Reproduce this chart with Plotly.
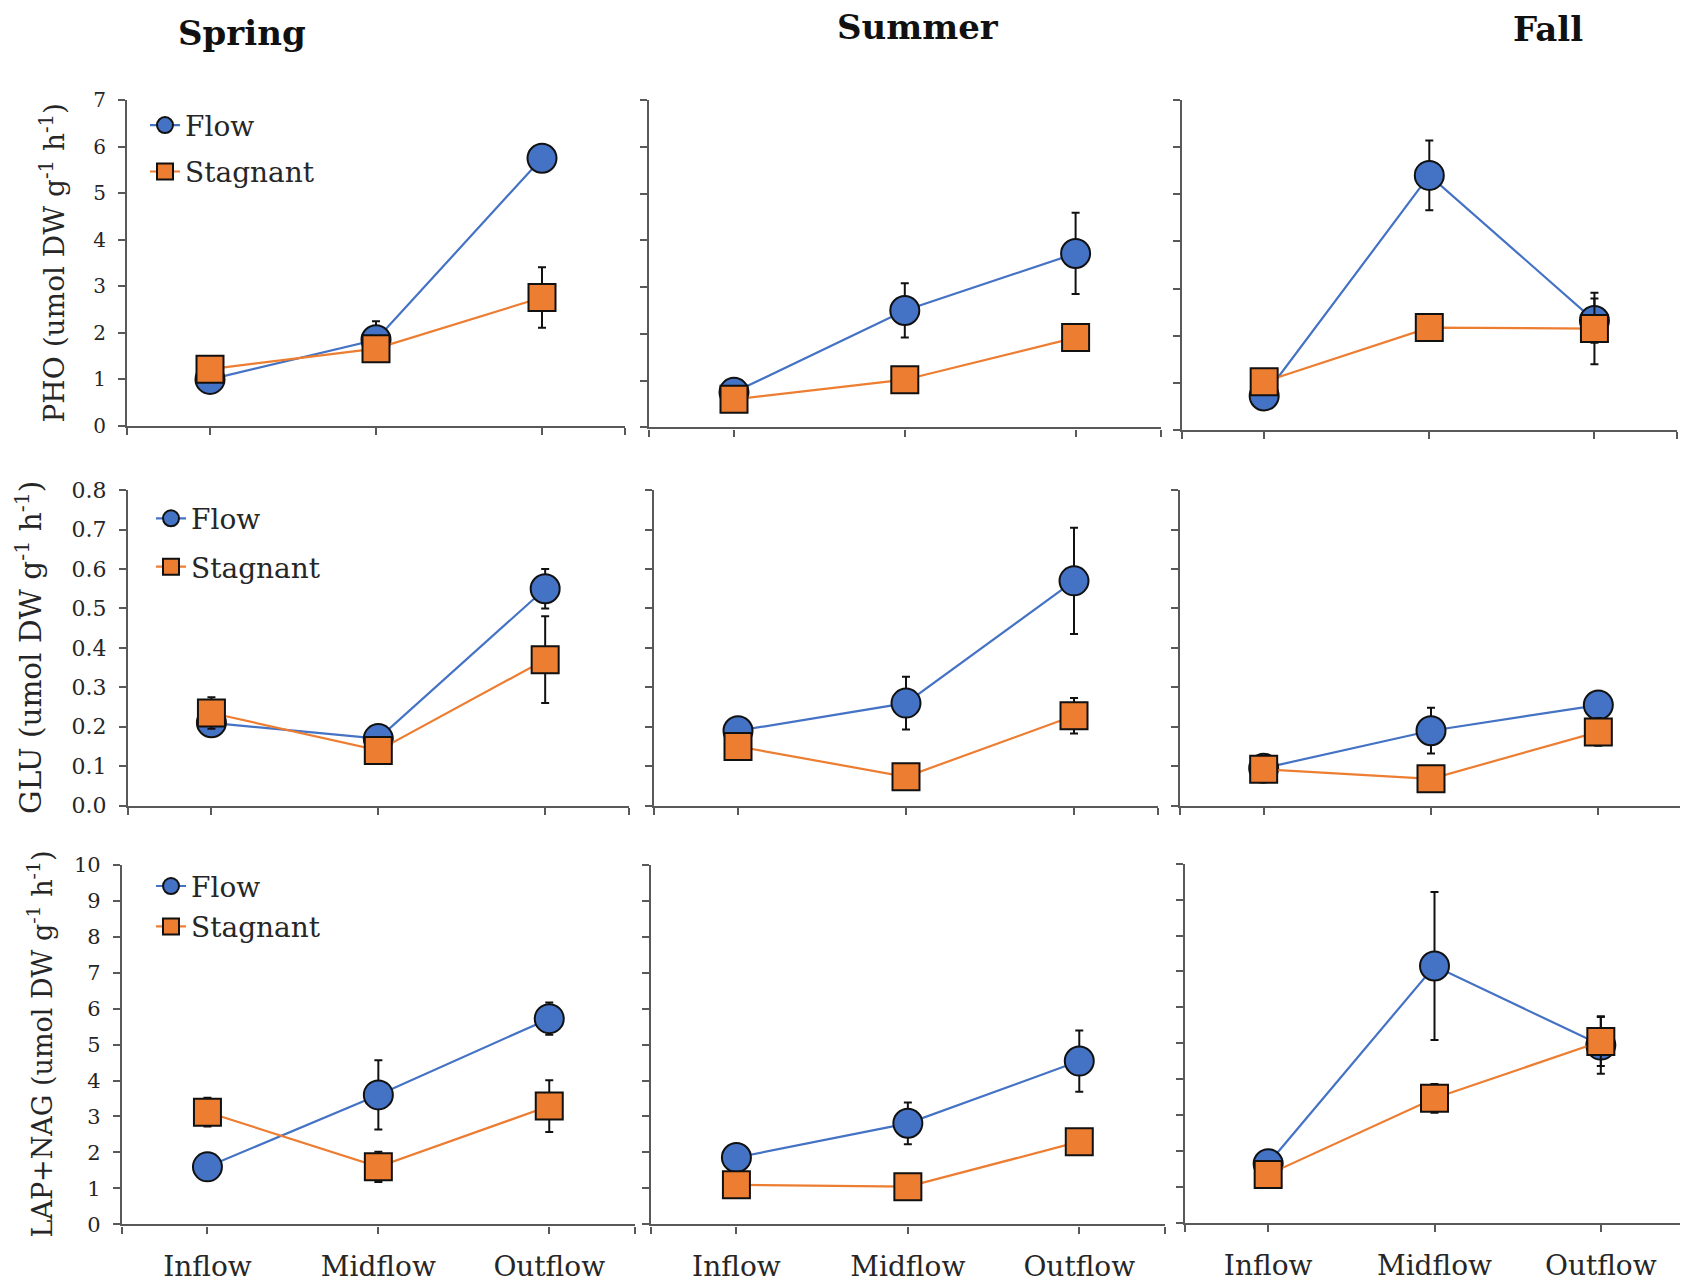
import plotly.graph_objects as go

W, H = 1688, 1286

categories = ["Inflow", "Midflow", "Outflow"]
seasons = ["Spring", "Summer", "Fall"]
enzymes = ["PHO", "GLU", "LAP+NAG"]

# PHO (umol DW g-1 h-1)
pho_flow = {"Spring": [1.0, 1.85, 5.75], "Summer": [0.75, 2.5, 3.72], "Fall": [0.72, 5.4, 2.32]}
pho_flow_err = {"Spring": [0.08, 0.40, 0.15], "Summer": [0.05, 0.58, 0.87], "Fall": [0.05, 0.74, 0.47]}
pho_stag = {"Spring": [1.22, 1.66, 2.76], "Summer": [0.6, 1.02, 1.92], "Fall": [1.02, 2.17, 2.15]}
pho_stag_err = {"Spring": [0.1, 0.12, 0.65], "Summer": [0.05, 0.08, 0.1], "Fall": [0.05, 0.1, 0.76]}

# GLU (umol DW g-1 h-1)
glu_flow = {"Spring": [0.21, 0.17, 0.55], "Summer": [0.19, 0.26, 0.57], "Fall": [0.095, 0.19, 0.255]}
glu_flow_err = {"Spring": [0.02, 0.03, 0.05], "Summer": [0.01, 0.067, 0.135], "Fall": [0.01, 0.058, 0.01]}
glu_stag = {"Spring": [0.235, 0.14, 0.37], "Summer": [0.15, 0.073, 0.228], "Fall": [0.092, 0.068, 0.187]}
glu_stag_err = {"Spring": [0.04, 0.02, 0.11], "Summer": [0.01, 0.01, 0.045], "Fall": [0.02, 0.01, 0.035]}

# LAP+NAG (umol DW g-1 h-1)
lap_flow = {"Spring": [1.6, 3.6, 5.72], "Summer": [1.86, 2.81, 4.54], "Fall": [1.65, 7.15, 4.95]}
lap_flow_err = {"Spring": [0.1, 0.96, 0.45], "Summer": [0.1, 0.58, 0.85], "Fall": [0.1, 2.06, 0.8]}
lap_stag = {"Spring": [3.12, 1.6, 3.29], "Summer": [1.1, 1.05, 2.3], "Fall": [1.35, 3.47, 5.05]}
lap_stag_err = {"Spring": [0.4, 0.42, 0.72], "Summer": [0.1, 0.1, 0.3], "Fall": [0.1, 0.4, 0.68]}

y_titles = [
    "PHO (umol DW g<sup>-1</sup> h<sup>-1</sup>)",
    "GLU (umol DW g<sup>-1</sup> h<sup>-1</sup>)",
    "LAP+NAG (umol DW g<sup>-1</sup> h<sup>-1</sup>)",
]
y_ranges = [[0, 7], [0, 0.8], [0, 10]]
y_dticks = [1, 0.1, 1]
y_formats = ["d", ".1f", "d"]

rows = [
    (pho_flow, pho_flow_err, pho_stag, pho_stag_err),
    (glu_flow, glu_flow_err, glu_stag, glu_stag_err),
    (lap_flow, lap_flow_err, lap_stag, lap_stag_err),
]

# panel pixel boxes: (left, right, top, bottom)
boxes = [
    [(119, 617, 81.6, 414), (640.6, 1153, 81.6, 415.5), (1173.6, 1669, 81.6, 418)],
    [(120, 620.6, 479.5, 801.2), (646, 1150, 479.5, 801.2), (1172, 1674, 479.5, 801.2)],
    [(114, 626.7, 861.4, 1228.3), (642.7, 1157, 861.4, 1228.3), (1177, 1676, 860.4, 1226.8)],
]


def px(x):
    return min(1.0, max(0.0, x / W))


def py(y):
    return min(1.0, max(0.0, 1 - y / H))


BLUE = "#4472C4"
ORANGE = "#ED7D31"
AXC = "#595959"
TXT = "#262626"
FONT = "DejaVu Serif"

fig = go.Figure()
layout = {}
x_idx = list(range(len(categories)))

# legend boxes (px): left, top, group gap
legend_pos = [(137, 82, 7), (143, 483, 9), (143, 858, 1)]
tick_sizes = [20, 22, 21]
title_sizes = [28, 29.5, 27]

for r in range(3):
    fdict, fedict, sdict, sedict = rows[r]
    for c, season in enumerate(seasons):
        n = r * 3 + c + 1
        xa = "x" if n == 1 else f"x{n}"
        ya = "y" if n == 1 else f"y{n}"
        xkey = "xaxis" if n == 1 else f"xaxis{n}"
        ykey = "yaxis" if n == 1 else f"yaxis{n}"
        L, R, T, B = boxes[r][c]
        legname = "legend" if r == 0 else f"legend{r+1}"
        show = (c == 0)
        fig.add_trace(go.Scatter(
            x=x_idx, y=fdict[season], name="Flow", mode="lines+markers",
            xaxis=xa, yaxis=ya, showlegend=show, legend=legname, legendgroup="flow",
            line=dict(color=BLUE, width=2.2),
            marker=dict(symbol="circle", size=29, color=BLUE, line=dict(color="#111111", width=2)),
            error_y=dict(type="data", array=fedict[season], visible=True, color="#111111", thickness=2, width=4),
        ))
        fig.add_trace(go.Scatter(
            x=x_idx, y=sdict[season], name="Stagnant", mode="lines+markers",
            xaxis=xa, yaxis=ya, showlegend=show, legend=legname, legendgroup="stag",
            line=dict(color=ORANGE, width=2.2),
            marker=dict(symbol="square", size=27, color=ORANGE, line=dict(color="#111111", width=2)),
            error_y=dict(type="data", array=sedict[season], visible=True, color="#111111", thickness=2, width=4),
        ))
        bottom_row = (r == 2)
        layout[xkey] = dict(
            domain=[px(L), px(R)], anchor=ya, range=[-0.5, 2.5],
            tickmode="array", tickvals=x_idx, ticktext=categories,
            showticklabels=bottom_row,
            ticks="outside", ticklen=7, tickwidth=2, tickcolor=AXC,
            minor=dict(tickmode="array", tickvals=[-0.5, 2.5], ticks="outside",
                       ticklen=7, tickwidth=2, tickcolor=AXC, showgrid=False),
            showline=True, linecolor=AXC, linewidth=2.2, showgrid=False, zeroline=False,
            tickfont=dict(family=FONT, size=28, color=TXT), ticklabelstandoff=9,
        )
        layout[ykey] = dict(
            domain=[py(B), py(T)], anchor=xa, range=y_ranges[r],
            tickmode="linear", tick0=0, dtick=y_dticks[r], tickformat=y_formats[r],
            showticklabels=(c == 0),
            ticks="outside", ticklen=7, tickwidth=2, tickcolor=AXC,
            showline=True, linecolor=AXC, linewidth=2.2, showgrid=False, zeroline=False,
            tickfont=dict(family=FONT, size=tick_sizes[r], color=TXT), ticklabelstandoff=8,
        )
    lx, ly, gap = legend_pos[r]
    lkey = "legend" if r == 0 else f"legend{r+1}"
    layout[lkey] = dict(
        x=px(lx), y=py(ly), xanchor="left", yanchor="top",
        bgcolor="rgba(0,0,0,0)", borderwidth=0,
        font=dict(family=FONT, size=28, color=TXT),
        itemsizing="trace", traceorder="grouped", tracegroupgap=gap,
    )

annotations = []
title_pos = [(234, 13), (910, 7), (1540, 9)]
for s, (tx, ty) in zip(seasons, title_pos):
    annotations.append(dict(
        text=f"<b>{s}</b>", x=px(tx), y=py(ty), xref="paper", yref="paper",
        xanchor="center", yanchor="middle", showarrow=False,
        font=dict(family=FONT, size=34, color="#111111"),
    ))

ytitle_x = [45.5, 21, 32]
for r in range(3):
    L, R, T, B = boxes[r][0]
    annotations.append(dict(
        text=y_titles[r], x=px(ytitle_x[r]), y=py((T + B) / 2),
        xref="paper", yref="paper", xanchor="center", yanchor="middle",
        textangle=-90, showarrow=False,
        font=dict(family=FONT, size=title_sizes[r], color=TXT),
    ))

fig.update_layout(
    width=W, height=H, margin=dict(l=0, r=0, t=0, b=0),
    paper_bgcolor="white", plot_bgcolor="white",
    annotations=annotations, **layout,
)

fig.write_html("out.html")
